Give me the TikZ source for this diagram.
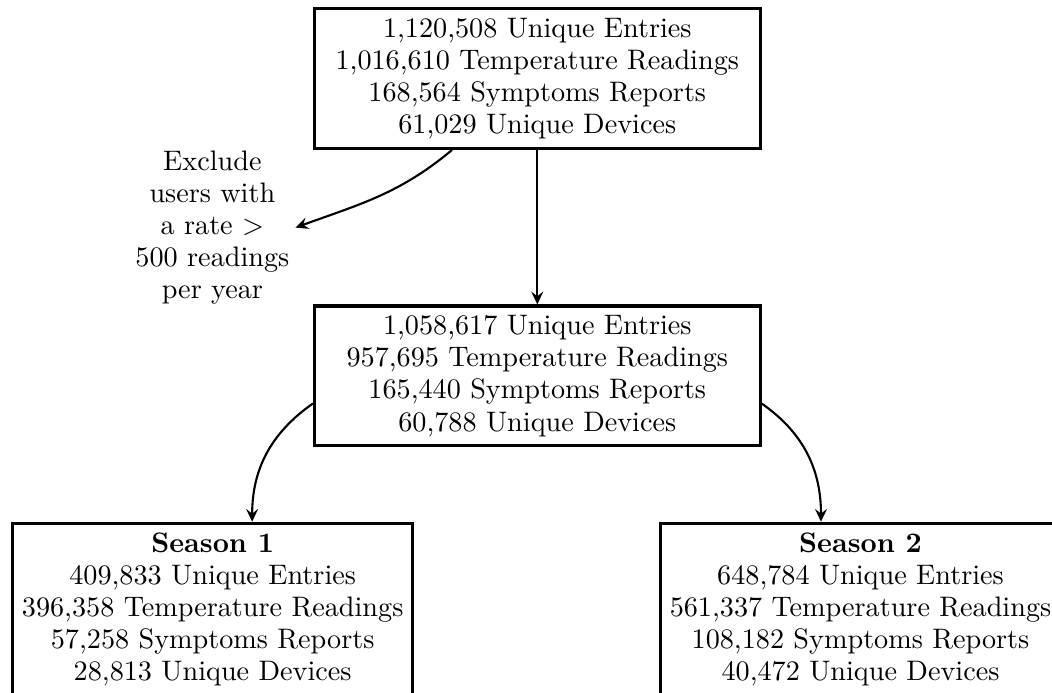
\documentclass[tikz,border=0pt]{standalone}
\usepackage{tikz}
\usetikzlibrary{arrows.meta,positioning}

\begin{document}
\begin{tikzpicture}[
        every node/.style={font=\fontsize{10pt}{11.4pt}\selectfont},
        countbox/.style={draw, line width=1.1pt, align=center, minimum width=158pt, minimum height=48.8pt},
        seasonbox/.style={draw, line width=1.1pt, align=center, anchor=north},
        note/.style={align=center, inner sep=2pt},
        flow/.style={-{Stealth[length=4.5pt,width=4.2pt,inset=1.6pt]}, line width=0.75pt},
    ]
        \useasboundingbox (0,0) rectangle (373pt,-245.4pt);

        % raw data, then the filtered set
        \node[countbox] (raw) at (190.5pt,-27.8pt) {1,120,508 Unique Entries\\1,016,610 Temperature Readings\\168,564 Symptoms Reports\\61,029 Unique Devices};
        \node[countbox] (clean) at (190.5pt,-133.3pt) {1,058,617 Unique Entries\\957,695 Temperature Readings\\165,440 Symptoms Reports\\60,788 Unique Devices};
        \node[note] (excl) at (75.3pt,-80.7pt) {Exclude\\users with\\a rate $>$\\500 readings\\per year};

        % split by season
        \node[seasonbox] (s1) at (75.4pt,-185pt) {\textbf{Season 1}\\409,833 Unique Entries\\396,358 Temperature Readings\\57,258 Symptoms Reports\\28,813 Unique Devices};
        \node[seasonbox] (s2) at (305.1pt,-185pt) {\textbf{Season 2}\\648,784 Unique Entries\\561,337 Temperature Readings\\108,182 Symptoms Reports\\40,472 Unique Devices};

        \draw[flow] (raw.south) -- (clean.north);
        \draw[flow] (raw.220) to[out=220, in=20] (excl.east);
        \draw[flow] (clean.187) to[out=215, in=90] ([xshift=14pt]s1.north);
        \draw[flow] (clean.353) to[out=-35, in=90] ([xshift=-14pt]s2.north);
    \end{tikzpicture}
\end{document}
